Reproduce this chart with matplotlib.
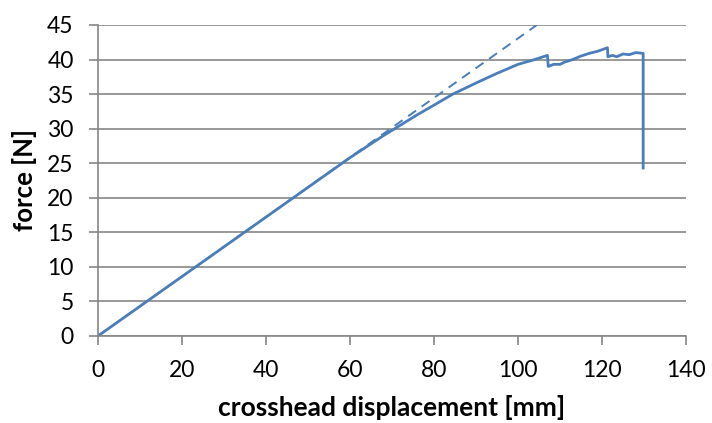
import matplotlib
matplotlib.use("Agg")
from matplotlib import pyplot as plt

disp = [0, 20, 40, 60, 64, 68, 72, 76, 80, 84.5, 90, 95, 100, 104, 107.0,
        107.2, 108.5, 110, 111, 112, 113, 115, 117, 119, 121.3,
        121.4, 122.5, 123.5, 125, 126.5, 128, 129.8, 129.8]
force = [0, 8.6, 17.2, 25.8, 27.4, 29.0, 30.5, 32.0, 33.4, 35.0, 36.6, 38.0, 39.3, 40.0, 40.6,
         39.0, 39.3, 39.3, 39.6, 39.8, 40.0, 40.5, 40.9, 41.2, 41.7,
         40.4, 40.6, 40.4, 40.8, 40.7, 41.0, 40.9, 24.3]

# linear elastic fit (dashed)
fit_x = [0, 104.5]
fit_y = [0, 45]

plt.rcParams["font.family"] = ["Lato", "DejaVu Sans"]

fig = plt.figure(figsize=(7.12, 4.23), dpi=100)
ax = fig.add_axes([0.1376, 0.2057, 0.8259, 0.7353])

blue = "#4a7ebb"
ax.plot(fit_x, fit_y, color=blue, lw=1.4, ls=(0, (5, 3.5)))
ax.plot(disp, force, color=blue, lw=2)

ax.set_xlim(0, 140)
ax.set_ylim(0, 45)
ax.set_xticks(range(0, 141, 20))
ax.set_yticks(range(0, 46, 5))
ax.yaxis.grid(True, color="#868686", lw=1.2)
ax.set_axisbelow(True)

for s in ["top", "right"]:
    ax.spines[s].set_visible(False)
for s in ["left", "bottom"]:
    ax.spines[s].set_color("#868686")
    ax.spines[s].set_linewidth(1.2)
ax.tick_params(colors="#868686", labelcolor="black", labelsize=16.5, length=6.5, width=1.2)
ax.tick_params(axis="x", pad=11)
ax.tick_params(axis="y", pad=11)

ax.set_xlabel("crosshead displacement [mm]", fontsize=19, fontweight="bold", labelpad=10)
ax.set_ylabel("force [N]", fontsize=18.5, fontweight="bold", labelpad=7)

fig.savefig("out.png", dpi=100)
